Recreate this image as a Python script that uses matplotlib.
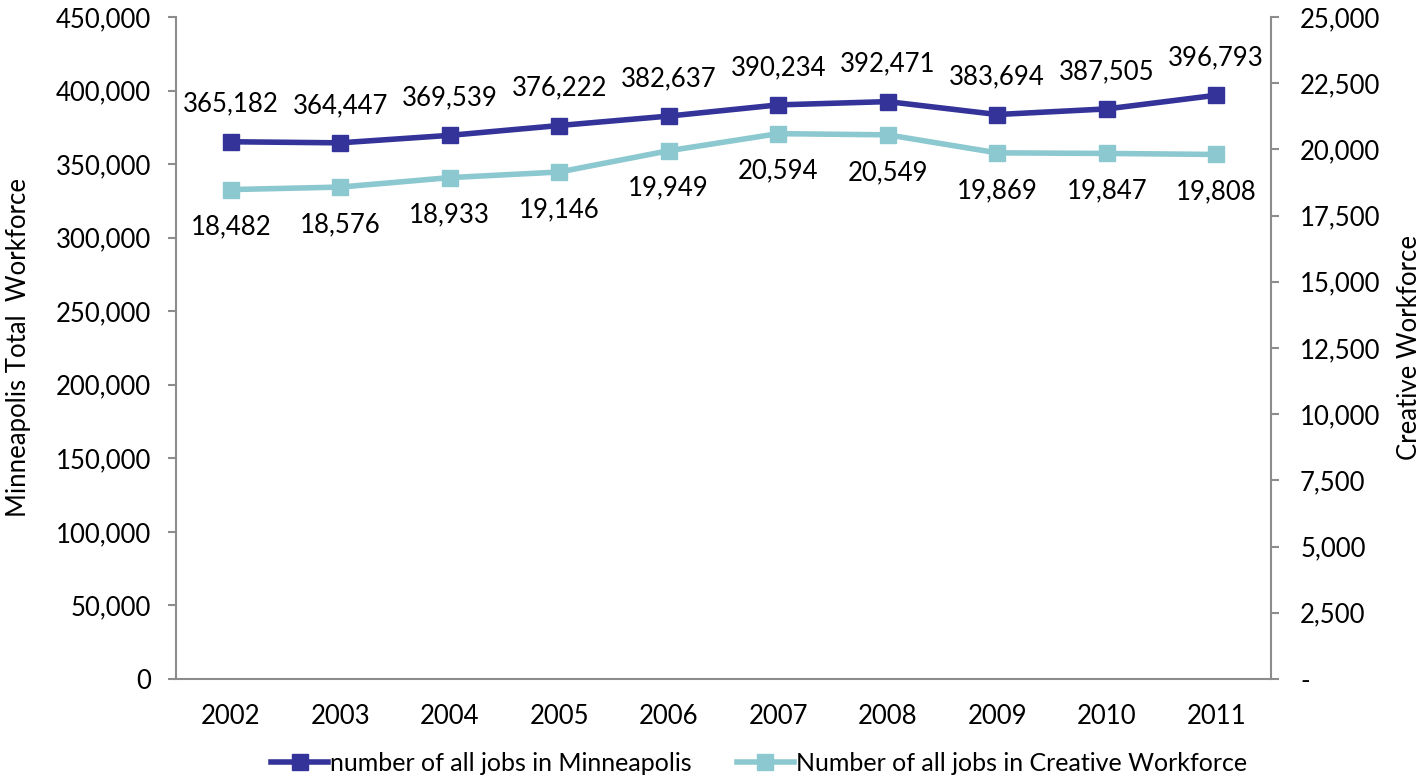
import matplotlib
matplotlib.use('Agg')
import matplotlib.pyplot as plt
from matplotlib.ticker import FuncFormatter, MultipleLocator
import numpy as np

plt.rcParams['font.family'] = ['Lato', 'DejaVu Sans']

# Dados
anos = ['2002', '2003', '2004', '2005', '2006', '2007', '2008', '2009', '2010', '2011']
empregos_minneapolis = [365182, 364447, 369539, 376222, 382637, 390234, 392471, 383694, 387505, 396793]
empregos_criativos = [18482, 18576, 18933, 19146, 19949, 20594, 20549, 19869, 19847, 19808]

cor_azul = '#333399'
cor_verde = '#8cc8cf'
cor_eixo = '#8c8c8c'
fs = 18.5

fig = plt.figure(figsize=(14.25, 7.79), dpi=100)
ax = fig.add_axes([0.1235, 0.1284, 0.7684, 0.8498])
ax2 = ax.twinx()

x = np.arange(len(anos))

l1, = ax.plot(x, empregos_minneapolis, color=cor_azul, lw=4, marker='s', ms=12,
              label='number of all jobs in Minneapolis', zorder=3)
l2, = ax2.plot(x, empregos_criativos, color=cor_verde, lw=4, marker='s', ms=12,
               label='Number of all jobs in Creative Workforce', zorder=3)

# Rótulos de valores
for xi, v in zip(x, empregos_minneapolis):
    ax.annotate(f'{v:,}', (xi, v), xytext=(0, 27), textcoords='offset points',
                ha='center', va='center', fontsize=fs)
for xi, v in zip(x, empregos_criativos):
    ax2.annotate(f'{v:,}', (xi, v), xytext=(0, -27), textcoords='offset points',
                 ha='center', va='center', fontsize=fs)

ax.set_xlim(-0.5, len(anos) - 0.5)
ax.set_ylim(0, 450000)
ax2.set_ylim(0, 25000)
ax.yaxis.set_major_locator(MultipleLocator(50000))
ax2.yaxis.set_major_locator(MultipleLocator(2500))
ax.yaxis.set_major_formatter(FuncFormatter(lambda v, p: f'{int(v):,}'))
ax2.yaxis.set_major_formatter(FuncFormatter(lambda v, p: '-' if v == 0 else f'{int(v):,}'))

ax.set_xticks(x)
ax.set_xticklabels(anos)

for a in (ax, ax2):
    for s in a.spines.values():
        s.set_visible(False)
    a.tick_params(axis='y', colors=cor_eixo, labelcolor='black', labelsize=fs,
                  length=6, width=1.5, direction='out')

ax.spines['left'].set_visible(True)
ax.spines['bottom'].set_visible(True)
ax2.spines['right'].set_visible(True)
for s in (ax.spines['left'], ax.spines['bottom'], ax2.spines['right']):
    s.set_color(cor_eixo)
    s.set_linewidth(1.5)

ax.tick_params(axis='x', length=0, labelsize=fs, pad=18)
ax.tick_params(axis='y', pad=12)
ax2.tick_params(axis='y', pad=15)

ax.set_ylabel('Minneapolis Total  Workforce', fontsize=fs, labelpad=18)
ax2.set_ylabel('Creative Workforce', fontsize=fs, labelpad=12)

fig.legend(handles=[l1, l2], loc='center', bbox_to_anchor=(0.5326, 0.02), ncol=2,
           frameon=False, fontsize=18, handlelength=2.28, handletextpad=0.08,
           columnspacing=1.8, borderaxespad=0)

fig.savefig('out.png', dpi=100)
